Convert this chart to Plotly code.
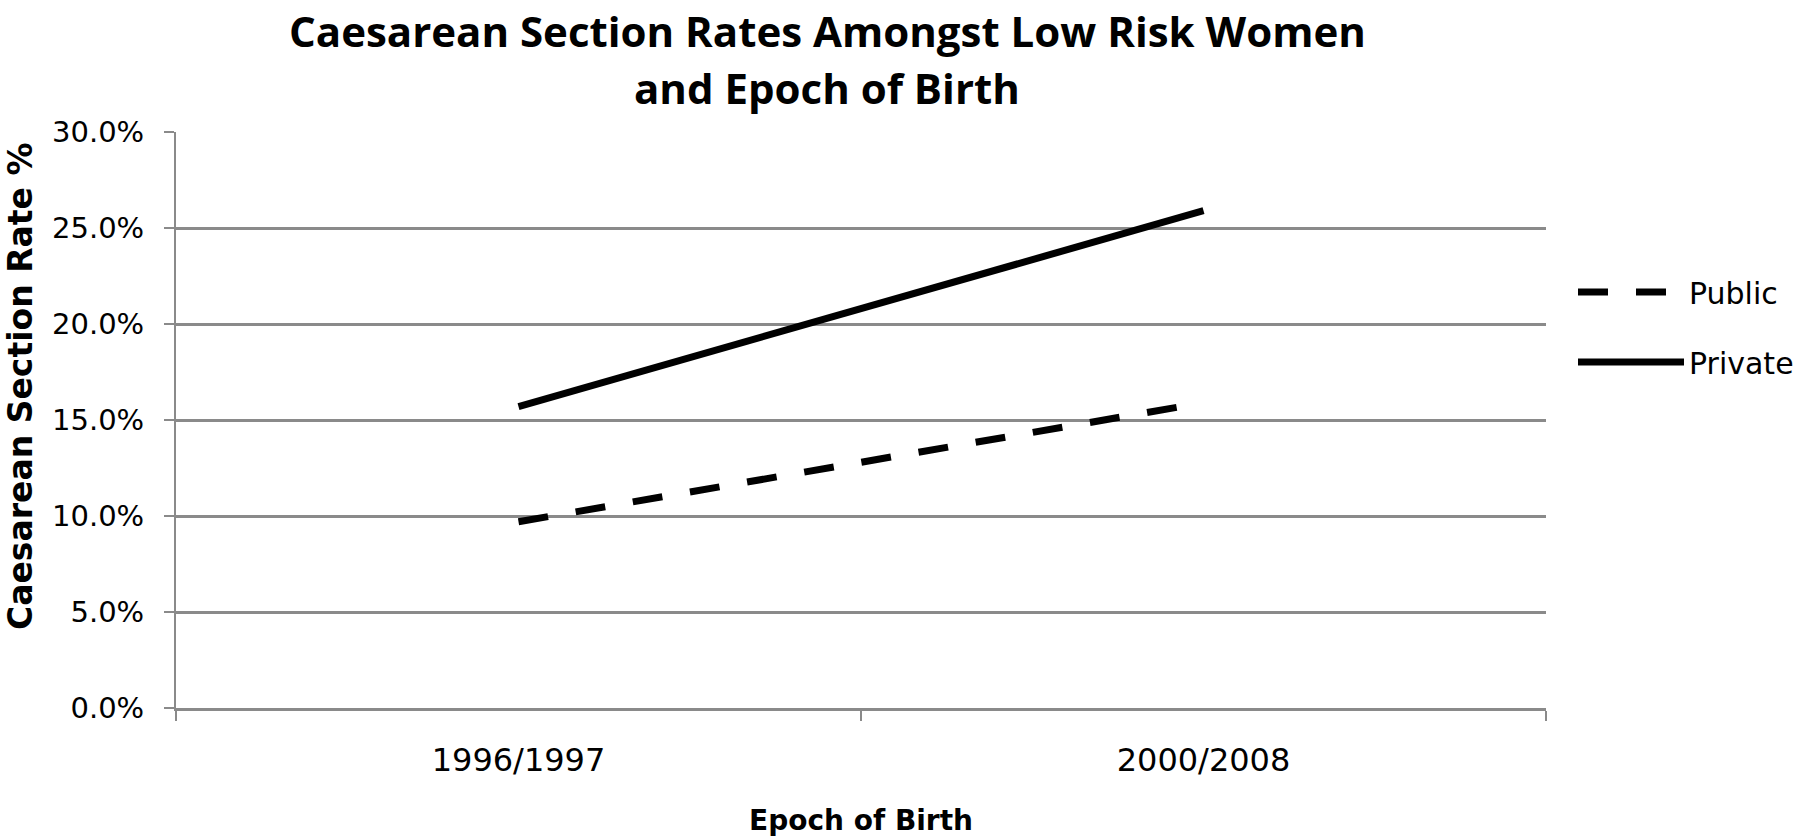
import plotly.graph_objects as go

# ---- data ----
epochs = ["1996/1997", "2000/2008"]
public_rate = [0.097, 0.159]
private_rate = [0.157, 0.259]
series_names = ["Public", "Private"]
title_lines = ["Caesarean Section Rates Amongst Low Risk Women", "and Epoch of Birth"]
y_title = "Caesarean Section Rate %"
x_title = "Epoch of Birth"

TITLE_FONT = "Open Sans, DejaVu Sans, sans-serif"
BOLD_FONT = "DejaVu Sans, sans-serif"
TICK_FONT = "DejaVu Sans, Verdana, sans-serif"

# plot-area geometry (pixels)
L, R, T, B = 176, 1546, 132, 708
W, H = 1800, 837


def py(yfull):
    return (B - yfull) / (B - T)


def px(xfull):
    return (xfull - L) / (R - L)


fig = go.Figure()
fig.add_trace(go.Scatter(
    x=epochs, y=public_rate, name=series_names[0], mode="lines",
    line=dict(color="black", width=7, dash="30px,28px"),
    legendgroup="g1",
))
fig.add_trace(go.Scatter(
    x=epochs, y=private_rate, name=series_names[1], mode="lines",
    line=dict(color="black", width=7),
    legendgroup="g2",
))

fig.update_layout(
    width=W, height=H,
    paper_bgcolor="white", plot_bgcolor="white",
    margin=dict(l=L, r=W - R, t=T, b=H - B, autoexpand=False),
    showlegend=True,
    legend=dict(
        xref="container", yref="container",
        x=1573 / W, xanchor="left", y=1 - 327 / H, yanchor="middle",
        font=dict(family=TICK_FONT, size=30, color="black"),
        itemwidth=106, traceorder="grouped", tracegroupgap=28,
        bgcolor="rgba(0,0,0,0)",
    ),
    xaxis=dict(
        type="category", range=[-0.5, 1.5], automargin=False,
        showgrid=False, showline=True, linecolor="#8a8a8a", linewidth=3,
        ticks="outside", tickson="boundaries", ticklen=10, tickcolor="#8a8a8a", tickwidth=2,
        tickfont=dict(family=TICK_FONT, size=32, color="black"),
        ticklabelstandoff=22,
        title=dict(text=x_title, font=dict(family=BOLD_FONT, size=28, color="black", weight="bold"), standoff=33),
        zeroline=False,
    ),
    yaxis=dict(
        range=[0, 0.30], dtick=0.05, tickformat=".1%", automargin=False,
        showgrid=True, gridcolor="#8a8a8a", gridwidth=2.5,
        showline=True, linecolor="#8a8a8a", linewidth=2,
        ticks="outside", ticklen=10, tickcolor="#8a8a8a", tickwidth=2,
        tickfont=dict(family=TICK_FONT, size=29, color="black"),
        ticklabelstandoff=14,
        zeroline=False,
    ),
    annotations=[
        dict(text=title_lines[0], xref="paper", yref="paper",
             x=px(827), y=py(30), xanchor="center", yanchor="middle", showarrow=False,
             font=dict(family=TITLE_FONT, size=42, color="black", weight="bold")),
        dict(text=title_lines[1], xref="paper", yref="paper",
             x=px(827), y=py(87), xanchor="center", yanchor="middle", showarrow=False,
             font=dict(family=TITLE_FONT, size=42, color="black", weight="bold")),
        dict(text=y_title, textangle=-90, xref="paper", yref="paper",
             x=px(20), y=py(386), xanchor="center", yanchor="middle", showarrow=False,
             font=dict(family=BOLD_FONT, size=33, color="black", weight="bold")),
    ],
)

fig.write_html("out.html", config={"displayModeBar": False},
               post_script="document.body.style.margin='0px';")
